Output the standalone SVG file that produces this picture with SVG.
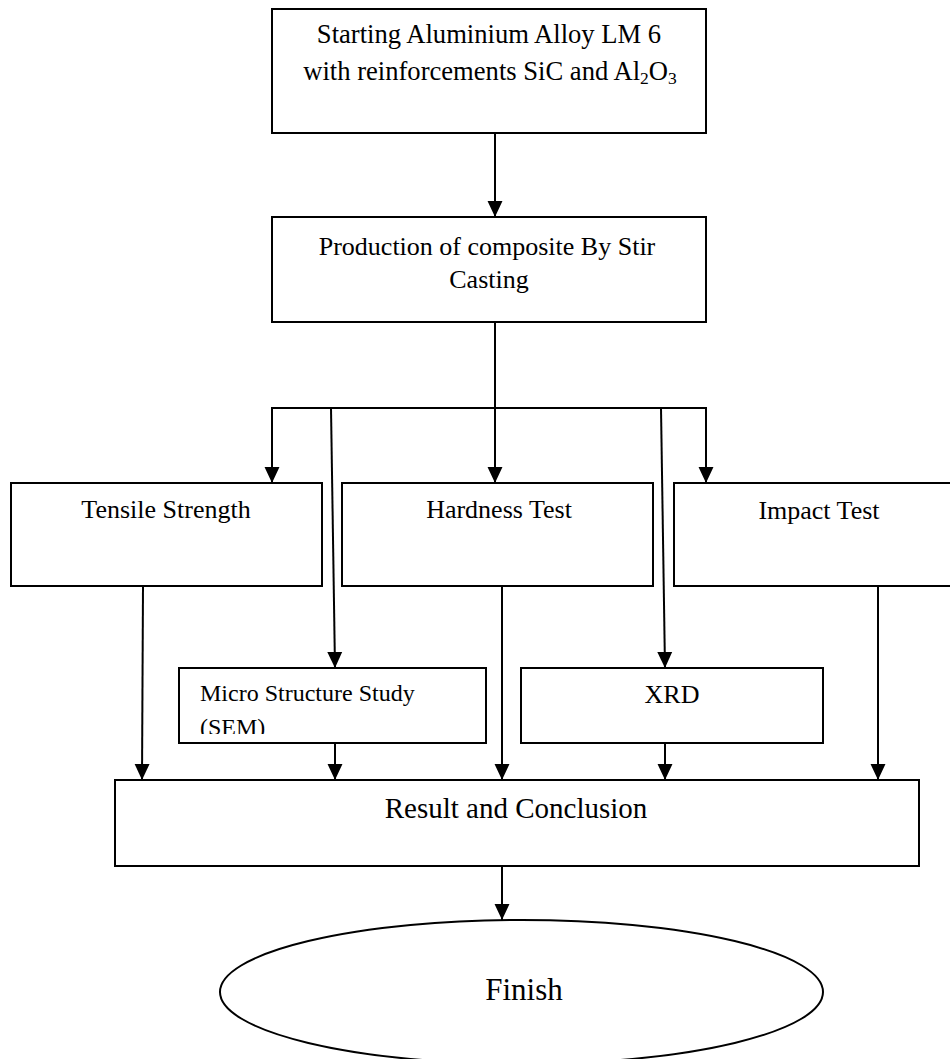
<svg xmlns="http://www.w3.org/2000/svg" width="950" height="1059" viewBox="0 0 950 1059">
  <defs>
    <marker id="arrow" markerUnits="userSpaceOnUse" markerWidth="16" markerHeight="16" viewBox="0 0 15 14" refX="15" refY="7" orient="auto">
      <path d="M0,0 L15,7 L0,14 z" fill="#000"/>
    </marker>
    <clipPath id="microClip">
      <rect x="179" y="668" width="307" height="66"/>
    </clipPath>
  </defs>
  <style>
    .box { fill: #fff; stroke: #000; stroke-width: 2; }
    .lbl { font-family: "Liberation Serif", "Times New Roman", serif; fill: #000; text-anchor: middle; font-size: 26px; }
    .conn line { stroke: #000; stroke-width: 2; fill: none; }
    .arr { marker-end: url(#arrow); }
  </style>
  <rect width="950" height="1059" fill="#fff"/>

  <g id="start">
    <rect class="box" x="272" y="9" width="434" height="124"/>
    <text class="lbl" x="489" y="43" style="font-size:26.6px">Starting Aluminium Alloy LM 6</text>
    <text class="lbl" x="490" y="80" style="font-size:26.6px">with reinforcements SiC and Al<tspan font-size="17.5" dy="4">2</tspan><tspan dy="-4">O</tspan><tspan font-size="17.5" dy="4">3</tspan></text>
  </g>

  <g id="production">
    <rect class="box" x="272" y="217" width="434" height="105"/>
    <text class="lbl" x="487" y="255">Production of composite By Stir</text>
    <text class="lbl" x="489" y="288">Casting</text>
  </g>

  <g id="tensile">
    <rect class="box" x="11" y="483" width="311" height="103"/>
    <text class="lbl" x="166" y="518">Tensile Strength</text>
  </g>

  <g id="hardness">
    <rect class="box" x="342" y="483" width="311" height="103"/>
    <text class="lbl" x="499" y="518">Hardness Test</text>
  </g>

  <g id="impact">
    <rect class="box" x="674" y="483" width="290" height="103"/>
    <text class="lbl" x="819" y="519">Impact Test</text>
  </g>

  <g id="micro">
    <rect class="box" x="179" y="668" width="307" height="75"/>
    <g clip-path="url(#microClip)">
      <text class="lbl" x="200" y="701" style="text-anchor:start;font-size:24px">Micro Structure Study</text>
      <text class="lbl" x="200" y="735" style="text-anchor:start;font-size:24px">(SEM)</text>
    </g>
  </g>

  <g id="xrd">
    <rect class="box" x="521" y="668" width="302" height="75"/>
    <text class="lbl" x="672" y="703">XRD</text>
  </g>

  <g id="result">
    <rect class="box" x="115" y="780" width="804" height="86"/>
    <text class="lbl" x="516" y="818" style="font-size:29px">Result and Conclusion</text>
  </g>

  <g id="finish">
    <ellipse class="box" cx="521.5" cy="992" rx="301.5" ry="72"/>
    <text class="lbl" x="524" y="1000" style="font-size:31px">Finish</text>
  </g>

  <g id="connectors" class="conn">
    <line class="arr" x1="495" y1="133" x2="495" y2="217"/>
    <line x1="495" y1="322" x2="495" y2="408"/>
    <line x1="271" y1="408" x2="707" y2="408"/>
    <line class="arr" x1="272" y1="408" x2="272" y2="483"/>
    <line class="arr" x1="495" y1="408" x2="495" y2="483"/>
    <line class="arr" x1="706" y1="408" x2="706" y2="483"/>
    <line class="arr" x1="331" y1="408" x2="335" y2="668"/>
    <line class="arr" x1="661" y1="408" x2="665" y2="668"/>
    <line class="arr" x1="143" y1="586" x2="142" y2="780"/>
    <line class="arr" x1="335" y1="743" x2="335" y2="780"/>
    <line class="arr" x1="502" y1="586" x2="502" y2="780"/>
    <line class="arr" x1="665" y1="743" x2="665" y2="780"/>
    <line class="arr" x1="878" y1="586" x2="878" y2="780"/>
    <line class="arr" x1="502" y1="866" x2="502" y2="920"/>
  </g>
</svg>
